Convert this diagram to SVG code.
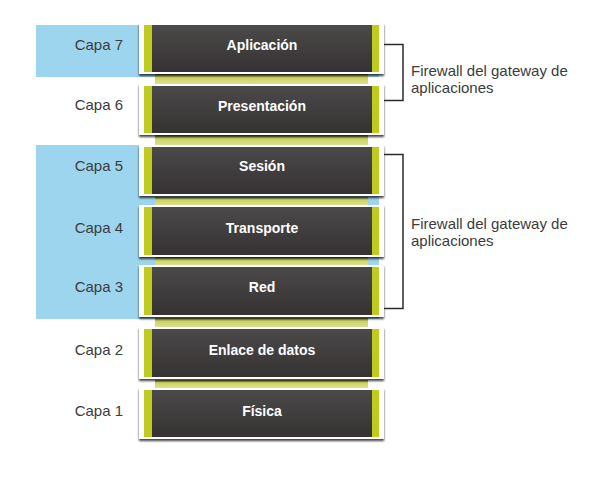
<svg xmlns="http://www.w3.org/2000/svg" width="602" height="480" viewBox="0 0 602 480">
<defs>
<linearGradient id="dark" x1="0" y1="0" x2="0" y2="1">
<stop offset="0" stop-color="#4b4949"/>
<stop offset="1" stop-color="#363233"/>
</linearGradient>
<linearGradient id="strip" x1="0" y1="0" x2="0" y2="1">
<stop offset="0" stop-color="#6f7236"/>
<stop offset="0.3" stop-color="#c9d25e"/>
<stop offset="1" stop-color="#dfe49c"/>
</linearGradient>
<filter id="sh" x="-5%" y="-10%" width="110%" height="130%">
<feGaussianBlur in="SourceAlpha" stdDeviation="1"/>
<feOffset dx="0" dy="2" result="b"/>
<feFlood flood-color="#000" flood-opacity="0.75"/>
<feComposite in2="b" operator="in"/>
<feMerge><feMergeNode/><feMergeNode in="SourceGraphic"/></feMerge>
</filter>
</defs>
<style>
.blue{fill:#9ed5ee}
.capa{font-family:"Liberation Sans",Arial,sans-serif;font-size:15px;fill:#3c3c3c;text-anchor:end}
.lbl{font-family:"Liberation Sans",Arial,sans-serif;font-size:14px;font-weight:bold;fill:#ffffff;text-anchor:middle}
.fw{font-family:"Liberation Sans",Arial,sans-serif;font-size:15px;fill:#3c3c3c}
.outer{fill:#ffffff}
.grn{fill:#bdcc1f}
.dk{fill:url(#dark)}
.st{fill:url(#strip)}
.br{fill:none;stroke:#2b2b2b;stroke-width:1.5}
</style>
<g id="backgrounds">
<rect class="blue" x="36" y="25" width="343" height="52"/>
<rect class="blue" x="36" y="145" width="343" height="174"/>
</g>
<g id="strips">
<rect class="st" x="155" y="74" width="213" height="11"/>
<rect class="st" x="155" y="135" width="213" height="11"/>
<rect class="st" x="155" y="197" width="213" height="9"/>
<rect class="st" x="155" y="257" width="213" height="9"/>
<rect class="st" x="155" y="318" width="213" height="10"/>
<rect class="st" x="155" y="380" width="213" height="9"/>
</g>
<g id="capas">
<text class="capa" x="123" y="50">Capa 7</text>
<text class="capa" x="123" y="110">Capa 6</text>
<text class="capa" x="123" y="171">Capa 5</text>
<text class="capa" x="123" y="233">Capa 4</text>
<text class="capa" x="123" y="292">Capa 3</text>
<text class="capa" x="123" y="355">Capa 2</text>
<text class="capa" x="123" y="416">Capa 1</text>
</g>
<g id="n7" transform="translate(0,23)">
<rect class="outer" x="139" y="0" width="245" height="51" filter="url(#sh)"/>
<rect class="grn" x="144" y="2" width="235" height="47"/>
<rect class="dk" x="152" y="2" width="220" height="47"/>
<text class="lbl" x="262" y="27">Aplicación</text>
</g>
<g id="n6" transform="translate(0,84)">
<rect class="outer" x="139" y="0" width="245" height="51" filter="url(#sh)"/>
<rect class="grn" x="144" y="2" width="235" height="47"/>
<rect class="dk" x="152" y="2" width="220" height="47"/>
<text class="lbl" x="262" y="27">Presentación</text>
</g>
<g id="n5" transform="translate(0,145)">
<rect class="outer" x="139" y="0" width="245" height="51" filter="url(#sh)"/>
<rect class="grn" x="144" y="2" width="235" height="47"/>
<rect class="dk" x="152" y="2" width="220" height="47"/>
<text class="lbl" x="262" y="26">Sesión</text>
</g>
<g id="n4" transform="translate(0,205)">
<rect class="outer" x="139" y="0" width="245" height="52" filter="url(#sh)"/>
<rect class="grn" x="144" y="2" width="235" height="48"/>
<rect class="dk" x="152" y="2" width="220" height="48"/>
<text class="lbl" x="262" y="28">Transporte</text>
</g>
<g id="n3" transform="translate(0,265)">
<rect class="outer" x="139" y="0" width="245" height="52" filter="url(#sh)"/>
<rect class="grn" x="144" y="2" width="235" height="48"/>
<rect class="dk" x="152" y="2" width="220" height="48"/>
<text class="lbl" x="262" y="27">Red</text>
</g>
<g id="n2" transform="translate(0,327)">
<rect class="outer" x="139" y="0" width="245" height="52" filter="url(#sh)"/>
<rect class="grn" x="144" y="2" width="235" height="48"/>
<rect class="dk" x="152" y="2" width="220" height="48"/>
<text class="lbl" x="262" y="28">Enlace de datos</text>
</g>
<g id="n1" transform="translate(0,388)">
<rect class="outer" x="139" y="0" width="245" height="51" filter="url(#sh)"/>
<rect class="grn" x="144" y="2" width="235" height="47"/>
<rect class="dk" x="152" y="2" width="220" height="47"/>
<text class="lbl" x="262" y="28">Física</text>
</g>
<g id="connectors">
<path class="br" d="M384 44.5 H403 V100.5 H384"/>
<path class="br" d="M384 154.5 H403 V308.5 H384"/>
</g>
<g id="firewall-labels">
<text class="fw" x="411" y="76">Firewall del gateway de</text>
<text class="fw" x="411" y="93">aplicaciones</text>
<text class="fw" x="411" y="229">Firewall del gateway de</text>
<text class="fw" x="411" y="246">aplicaciones</text>
</g>
</svg>
